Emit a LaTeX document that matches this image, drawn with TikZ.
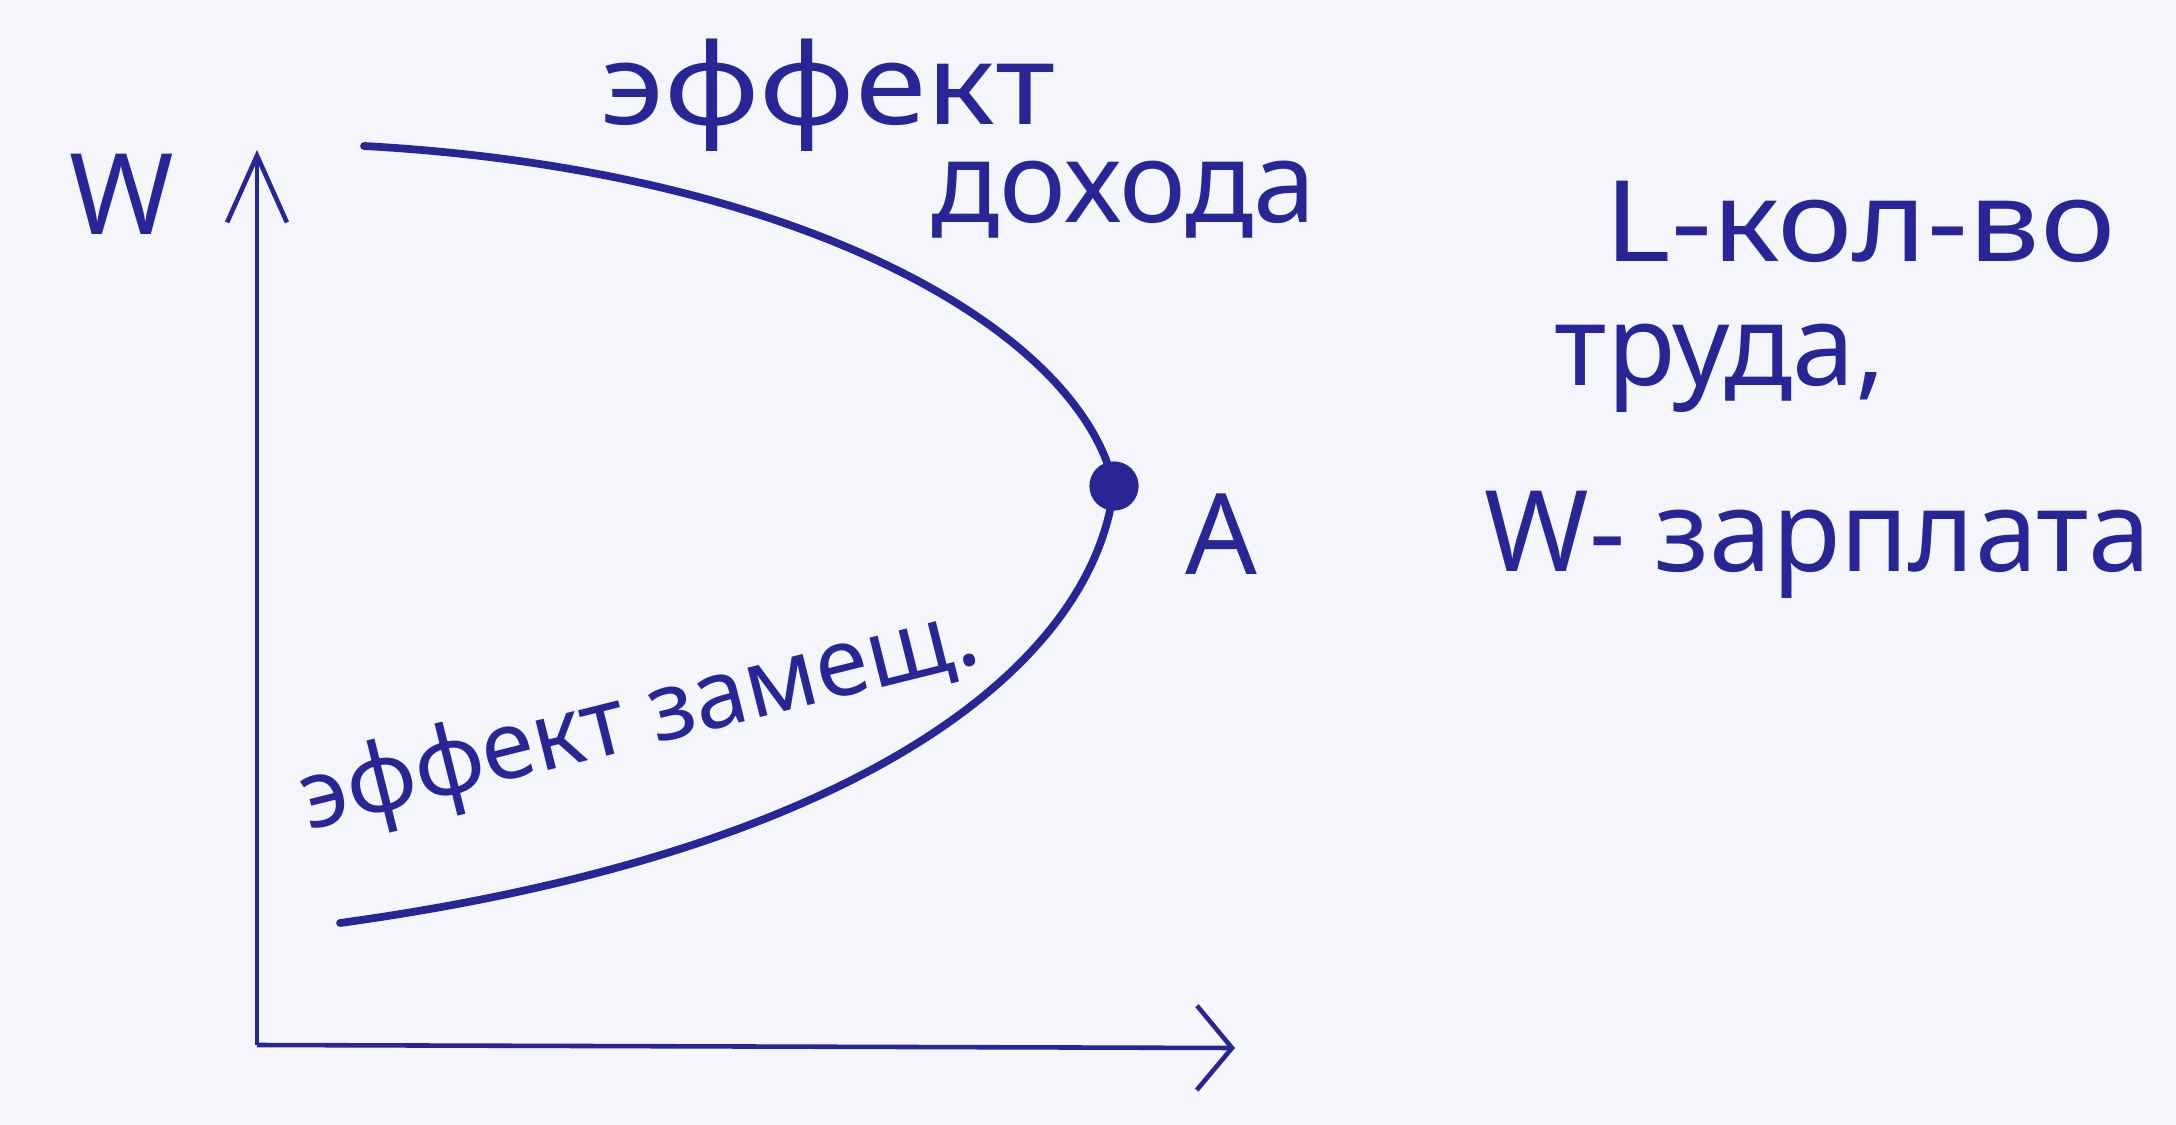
\documentclass[tikz,border=0pt]{standalone}
\usepackage{fontspec}
\setmainfont{Noto Sans}
\usetikzlibrary{arrows.meta}
\definecolor{ink}{RGB}{40,38,150}
\definecolor{paper}{RGB}{244,246,251}
\tikzset{
  hand/.style={text=ink, font=\fontsize{32}{38}\selectfont, inner sep=0pt},
  axisline/.style={draw=ink, line width=1.3pt},
  curveline/.style={draw=ink, line width=2.2pt, line cap=round},
}
\begin{document}
\begin{tikzpicture}[x=0.01cm, y=-0.01cm]
\fill[paper] (0,0) rectangle (2176,1125);
\useasboundingbox (0,0) rectangle (2176,1125);
% axes
\coordinate (O) at (257,1045);
\coordinate (Ytop) at (257,150);
\coordinate (Xend) at (1235,1048);
\draw[axisline, -{Straight Barb[length=19pt,width=17pt,line width=1.3pt]}] (O) -- (Ytop);
\draw[axisline, -{Straight Barb[length=10pt,width=24pt,line width=1.3pt]}] (O) -- (Xend);
\node[hand] (W) at (122,194) {W};
% curve
\coordinate (S) at (364,146);
\coordinate (E) at (340,923);
\node[circle, fill=ink, inner sep=0pt, minimum size=14pt] (A) at (1114,486) {};
\draw[curveline] (S) .. controls (800,170) and (1080,330) .. (A.center)
  .. controls (1095,660) and (870,850) .. (E);
\node[hand] (Alab) at (1221,534) {A};
% labels
\node[hand, xscale=1.15] (e1) at (828,95) {эффект};
\node[hand] (e2) at (1124,200) {дохода};
\node[hand, font=\fontsize{27}{32}\selectfont, rotate=14] (e3) at (640,722) {эффект замещ.};
\node[hand, xscale=1.13] (t1) at (1860,222) {L-кол-во};
\node[hand] (t2) at (1720,368) {труда,};
\node[hand] (t3) at (1818,545) {W- зарплата};
\end{tikzpicture}
\end{document}
